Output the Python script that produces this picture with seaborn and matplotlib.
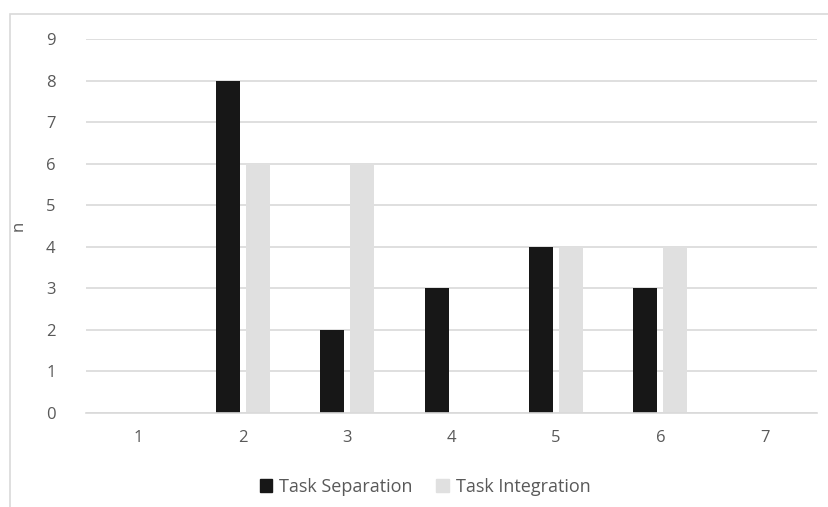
import matplotlib
matplotlib.use("Agg")
import matplotlib.pyplot as plt
import matplotlib.patches as mpatches
import seaborn as sns
import pandas as pd

categories = ["1", "2", "3", "4", "5", "6", "7"]
task_separation = [0, 8, 2, 3, 4, 3, 0]
task_integration = [0, 6, 6, 0, 4, 4, 0]
y_ticks = list(range(0, 10))

df = pd.DataFrame({
    "cat": categories * 2,
    "n": task_separation + task_integration,
    "series": ["Task Separation"] * 7 + ["Task Integration"] * 7,
})

sns.set_theme(style="white")
plt.rcParams['font.family'] = ['Open Sans', 'DejaVu Sans']

fig = plt.figure(figsize=(8.29, 5.07), dpi=100)
ax = fig.add_axes([86/829, 1-413/507, (817-86)/829, 374/507])

sns.barplot(data=df, x="cat", y="n", hue="series", order=categories,
            palette={"Task Separation": "#171717", "Task Integration": "#e0e0e0"},
            width=0.574, gap=0.2, ax=ax, legend=False, saturation=1,
            linewidth=0, edgecolor="none")

ax.set_ylim(0, 9)
ax.set_xlim(-0.5, 6.5)
ax.set_yticks(y_ticks)
ax.yaxis.grid(True, color="#d9d9d9", linewidth=1.2)
ax.set_axisbelow(True)
for s in ["top", "right", "left"]:
    ax.spines[s].set_visible(False)
ax.spines["bottom"].set_color("#d9d9d9")
ax.spines["bottom"].set_linewidth(1.2)
ax.tick_params(axis="both", length=0, labelsize=12, labelcolor="#595959")
ax.tick_params(axis="y", pad=22)
ax.tick_params(axis="x", pad=12)
ax.set_xlabel("")
ax.set_ylabel("n", fontsize=12, color="#595959", labelpad=14)

handles = [mpatches.Patch(color="#171717", label="Task Separation"),
           mpatches.Patch(color="#e0e0e0", label="Task Integration")]
fig.legend(handles=handles, loc="center", bbox_to_anchor=(0.513, 1-487/507), ncol=2,
           frameon=False, fontsize=13, labelcolor="#595959",
           handlelength=0.7, handleheight=0.7, handletextpad=0.4, columnspacing=1.3)

border = mpatches.Rectangle((10/829, -0.1), 1.2, 0.1 + (1-14/507), transform=fig.transFigure,
                            fill=False, edgecolor="#d9d9d9", linewidth=1.2)
fig.patches.append(border)

fig.savefig("out.png", dpi=100)
